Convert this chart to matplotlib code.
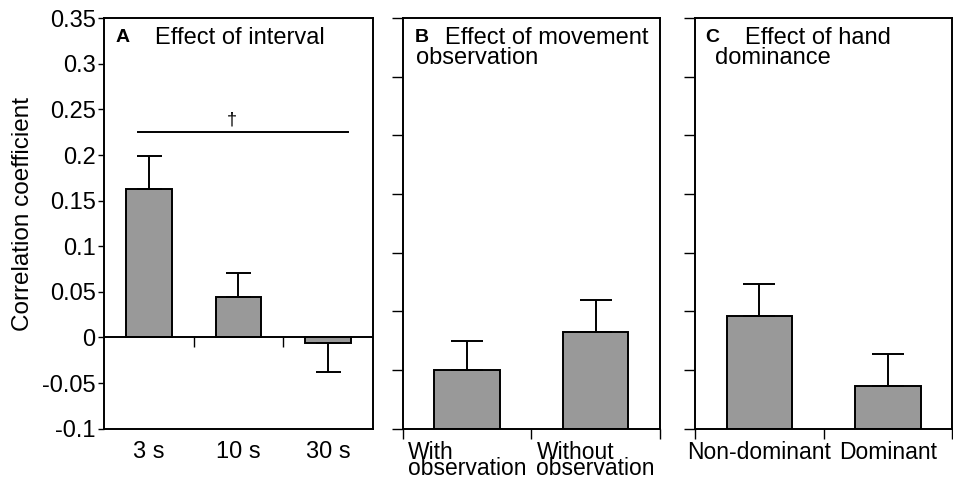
import numpy as np
import matplotlib
matplotlib.use("Agg")
import matplotlib.pyplot as plt

plt.rcParams['font.family'] = ['Liberation Sans', 'DejaVu Sans']

# panel A: effect of interval
labels_a = ["3 s", "10 s", "30 s"]
means_a = [0.163, 0.044, -0.006]
sems_a = [0.036, 0.027, 0.032]
sig_a = 0.225
sig_span = [-0.12, 2.22]
dagger_x = 0.93

# panel B: effect of movement observation
labels_b = ["With\nobservation", "Without\nobservation"]
means_b = [0.050, 0.082]
sems_b = [0.025, 0.028]

# panel C: effect of hand dominance
labels_c = ["Non-dominant", "Dominant"]
means_c = [0.096, 0.036]
sems_c = [0.027, 0.028]

bar_color = "#999999"
fs = 17

fig = plt.figure(figsize=(9.54, 4.80), dpi=100)
ax_a = fig.add_axes([0.109, 0.107, 0.282, 0.855])
ax_b = fig.add_axes([0.4224, 0.107, 0.2694, 0.855])
ax_c = fig.add_axes([0.7285, 0.107, 0.2697, 0.855])


def draw_bars(ax, means, sems, capsize):
    x = np.arange(len(means))
    means = np.array(means)
    sems = np.array(sems)
    up = np.where(means >= 0, sems, 0)
    down = np.where(means < 0, sems, 0)
    ax.bar(x, means, width=0.51, color=bar_color, edgecolor="black",
           linewidth=1.4, zorder=2)
    ax.errorbar(x, means, yerr=[down, up], fmt="none", ecolor="black",
                elinewidth=1.4, capsize=capsize, capthick=1.4, zorder=3)
    ax.set_xlim(-0.5, len(means) - 0.5)
    for s in ax.spines.values():
        s.set_linewidth(1.4)


# ---- panel A
draw_bars(ax_a, means_a, sems_a, 9)
ax_a.set_ylim(-0.1, 0.35)
ax_a.set_yticks(np.arange(-0.1, 0.351, 0.05))
ax_a.set_yticklabels(["-0.1", "-0.05", "0", "0.05", "0.1", "0.15",
                      "0.2", "0.25", "0.3", "0.35"])
ax_a.tick_params(axis="y", length=4.5, width=1, pad=1.5, labelsize=fs)
ax_a.set_xticks(np.arange(len(labels_a)))
ax_a.set_xticklabels(labels_a, fontsize=fs)
ax_a.tick_params(axis="x", length=0, pad=9)
ax_a.axhline(0, color="black", linewidth=1.4, zorder=4)
bounds = np.arange(len(labels_a))[1:] - 0.5
ax_a.vlines(bounds, -0.01, 0, color="black", linewidth=1)
ax_a.set_ylabel("Correlation coefficient", fontsize=17.5)
ax_a.yaxis.set_label_coords(-0.26, 0.523)
ax_a.plot(sig_span, [sig_a, sig_a], color="black", linewidth=1.4)
ax_a.text(dagger_x, sig_a + 0.004, "\u2020", ha="center", va="bottom", fontsize=13)
ax_a.text(0.041, 0.952, "A", transform=ax_a.transAxes, fontsize=14,
          fontweight="bold", va="center", ha="left")
ax_a.text(0.19, 0.952, "Effect of interval", transform=ax_a.transAxes,
          fontsize=fs, va="center", ha="left")

# ---- panels B and C
for ax, means, sems, labels in [(ax_b, means_b, sems_b, labels_b),
                                (ax_c, means_c, sems_c, labels_c)]:
    draw_bars(ax, means, sems, 11.5)
    ax.set_ylim(0, 0.35)
    ax.set_yticks(np.arange(0, 0.351, 0.05))
    ax.tick_params(axis="y", length=8, width=1, labelleft=False)
    ax.set_xticks(np.arange(len(labels)))
    ax.set_xticklabels(labels, fontsize=16.5, multialignment="left",
                       linespacing=0.62)
    ax.set_xticks(np.arange(len(labels) + 1) - 0.5, minor=True)
    ax.tick_params(axis="x", which="major", length=0, pad=9)
    ax.tick_params(axis="x", which="minor", length=7, width=1)

ax_b.text(0.047, 0.952, "B", transform=ax_b.transAxes, fontsize=14,
          fontweight="bold", va="center", ha="left")
ax_b.text(0.163, 0.952, "Effect of movement", transform=ax_b.transAxes,
          fontsize=fs, va="center", ha="left")
ax_b.text(0.051, 0.903, "observation", transform=ax_b.transAxes,
          fontsize=fs, va="center", ha="left")

ax_c.text(0.039, 0.952, "C", transform=ax_c.transAxes, fontsize=14,
          fontweight="bold", va="center", ha="left")
ax_c.text(0.194, 0.952, "Effect of hand", transform=ax_c.transAxes,
          fontsize=fs, va="center", ha="left")
ax_c.text(0.078, 0.903, "dominance", transform=ax_c.transAxes,
          fontsize=fs, va="center", ha="left")

fig.savefig("out.png", dpi=100)
